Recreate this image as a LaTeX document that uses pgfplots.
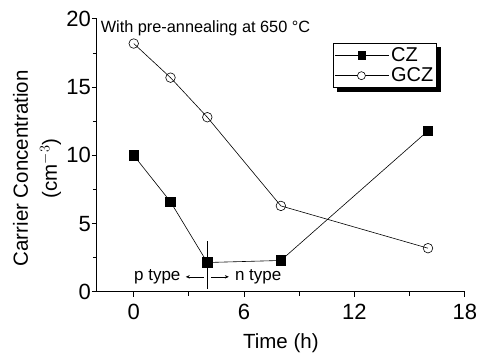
\documentclass[border=0pt]{standalone}
\usepackage{pgfplots}
\pgfplotsset{compat=1.18}
\usepackage{fontspec}
\setmainfont{Liberation Sans}
\usetikzlibrary{arrows.meta,backgrounds}
\begin{document}
\begin{tikzpicture}
\begin{axis}[
  scale only axis, width=368pt, height=273pt,
  xmin=-2, xmax=18, ymin=0, ymax=20,
  axis lines*=left,
  axis line style={line width=1pt, -},
  xtick={0,6,12,18}, minor xtick={3,9,15},
  ytick={0,5,10,15,20}, minor ytick={2.5,7.5,12.5,17.5},
  tick align=outside, tick style={black, line width=1pt},
  major tick length=5pt, minor tick length=4pt,
  /pgf/number format/assume math mode=true,
  tick label style={font=\fontsize{22}{22}\selectfont},
  xticklabel style={inner sep=1pt, yshift=-6pt},
  yticklabel style={inner sep=1pt},
  xlabel={Time (h)}, ylabel={Carrier Concentration\\(cm$^{-3}$)},
  every axis y label/.style={at={(rel axis cs:0,0.5)}, rotate=90, anchor=center, xshift=-13pt, yshift=60pt, align=center, font=\fontsize{20.5}{29}\selectfont},
  every axis x label/.style={at={(rel axis cs:0.5,0)}, anchor=center, yshift=-51pt, font=\fontsize{20.5}{20.5}\selectfont},
  legend style={name=leg, at={(0.924,0.912)}, anchor=north east, draw=black, line width=1pt,
    font=\fontsize{20}{24}\selectfont, fill=white, inner xsep=1pt, inner ysep=2pt, row sep=1pt},
  legend cell align=left,
  clip=false,
]
\addplot[black, line width=0.6pt, mark=square*, mark size=4.8pt, mark options={fill=black, solid},
  legend image code/.code={
    \draw[black, line width=0.6pt] (0pt,0pt) -- (54pt,0pt);
    \fill[black] (23pt,-3.6pt) rectangle (30.2pt,3.6pt);
  }] coordinates {
  (0,10.0) (2,6.6) (4,2.15) (8,2.3) (16,11.8)};
\addlegendentry{CZ}
\addplot[black, line width=0.6pt, mark=o, mark size=4.8pt, mark options={fill=white, solid},
  legend image code/.code={
    \draw[black, line width=0.6pt] (0pt,0pt) -- (22.6pt,0pt);
    \draw[black, line width=0.6pt] (30.6pt,0pt) -- (54pt,0pt);
    \draw[black, line width=0.6pt, fill=white] (26.6pt,0pt) circle (4pt);
  }] coordinates {
  (0,18.2) (2,15.7) (4,12.8) (8,6.3) (16,3.2)};
\addlegendentry{GCZ}
\draw[black, line width=0.7pt] (axis cs:4,0.2) -- (axis cs:4,3.75);
\draw[black, line width=0.6pt, -{Stealth[length=4pt,width=3.5pt]}] (axis cs:3.8,1.1) -- (axis cs:2.83,1.1);
\draw[black, line width=0.6pt, -{Stealth[length=4pt,width=3.5pt]}] (axis cs:4.2,1.1) -- (axis cs:5.17,1.1);
\node[anchor=east, font=\fontsize{17}{17}\selectfont, inner sep=0pt] at (axis cs:2.55,1.1) {p type};
\node[anchor=west, font=\fontsize{17}{17}\selectfont, inner sep=0pt] at (axis cs:5.5,1.1) {n type};
\node[anchor=base west, font=\fontsize{16.3}{16.3}\selectfont, inner sep=0pt] at ([yshift=-14pt]rel axis cs:0.01,1) {With pre-annealing at 650 °C};
\path (rel axis cs:0,1) ++(-97pt,19pt);
\path (rel axis cs:1,0) ++(13pt,-68pt);
\end{axis}
\begin{scope}[on background layer]
  \fill[black] ([shift={(4pt,-4pt)}]leg.south west) rectangle ([shift={(4pt,-4pt)}]leg.north east);
\end{scope}
\end{tikzpicture}
\end{document}
